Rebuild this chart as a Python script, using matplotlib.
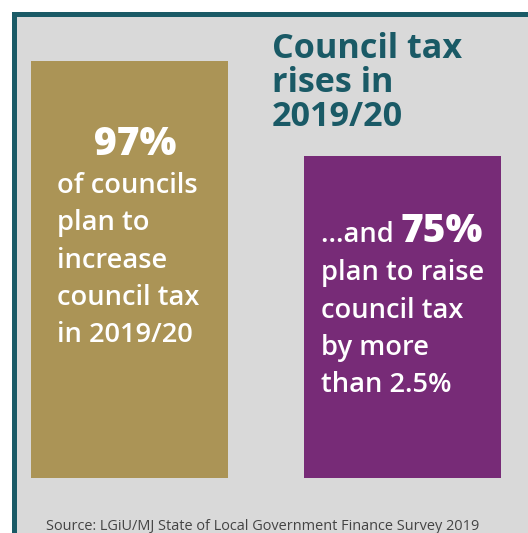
import matplotlib
matplotlib.use("Agg")
import matplotlib.pyplot as plt
from matplotlib.patches import Rectangle

# Data
categories = ["Plan to increase council tax", "Plan to raise by more than 2.5%"]
values = [97, 75]
bar_colors = ["#ab9456", "#772b77"]
title_lines = ["Council tax", "rises in", "2019/20"]
left_big = "97%"
left_lines = ["of councils", "plan to", "increase", "council tax", "in 2019/20"]
right_lead = "...and "
right_big = "75%"
right_lines = ["plan to raise", "council tax", "by more", "than 2.5%"]
source = "Source: LGiU/MJ State of Local Government Finance Survey 2019"

W, H = 528, 533
TEAL = "#1a5a66"
GREY_BG = "#d9d9d9"
FONT = "Open Sans"

fig = plt.figure(figsize=(W / 100, H / 100), dpi=100)
fig.patch.set_facecolor("white")


def fx(px):
    return px / W


def fy(py):
    return 1 - py / H


# Panel background and teal frame on top/left
fig.patches.append(Rectangle((fx(17), 0), 1 - fx(17), fy(17), transform=fig.transFigure,
                             facecolor=GREY_BG, edgecolor="none", zorder=-2))
fig.patches.append(Rectangle((fx(11.5), fy(17)), 1 - fx(11.5), fy(11.5) - fy(17),
                             transform=fig.transFigure, facecolor=TEAL, edgecolor="none", zorder=-1))
fig.patches.append(Rectangle((fx(11.5), 0), fx(17) - fx(11.5), fy(11.5),
                             transform=fig.transFigure, facecolor=TEAL, edgecolor="none", zorder=-1))

# Bar axes spanning the whole figure; y in percent
ax = fig.add_axes([0, 0, 1, 1])
ax.set_zorder(1)
ax.set_facecolor("none")
px_per_pct = 417 / 97
base_px = 478
ax.set_ylim(-(H - base_px) / px_per_pct, base_px / px_per_pct)
unit = 273
ax.set_xlim(-129.5 / unit, (W - 129.5) / unit)
ax.bar(range(len(values)), values, width=197 / unit, color=bar_colors, zorder=2)
ax.axis("off")

# Title
for i, line in enumerate(title_lines):
    fig.text(fx(272), fy(58 + i * 34), line, color=TEAL, fontsize=24.6, fontweight="bold",
             family=FONT, ha="left", va="baseline", zorder=3)

# Left bar text
fig.text(fx(135), fy(155), left_big, color="white", fontsize=28, fontweight="heavy",
         family=FONT, ha="center", va="baseline", zorder=3)
for i, line in enumerate(left_lines):
    fig.text(fx(57), fy(193 + i * 37.3), line, color="white", fontsize=19.6, fontweight="semibold",
             family=FONT, ha="left", va="baseline", zorder=3)

# Right bar text
lead = fig.text(fx(321), fy(242), right_lead, color="white", fontsize=19.6, fontweight="semibold",
                family=FONT, ha="left", va="baseline", zorder=3)
fig.canvas.draw()
bb = lead.get_window_extent(renderer=fig.canvas.get_renderer())
fig.text(bb.x1 / W, fy(242), right_big, color="white", fontsize=28, fontweight="heavy",
         family=FONT, ha="left", va="baseline", zorder=3)
for i, line in enumerate(right_lines):
    fig.text(fx(321), fy(280 + i * 37.5), line, color="white", fontsize=19.6, fontweight="semibold",
             family=FONT, ha="left", va="baseline", zorder=3)

# Source note
fig.text(fx(46), fy(530), source, color="#444444", fontsize=10.45, family="Open Sans",
         ha="left", va="baseline", zorder=3)

fig.savefig("out.png", dpi=100, facecolor=fig.get_facecolor())
